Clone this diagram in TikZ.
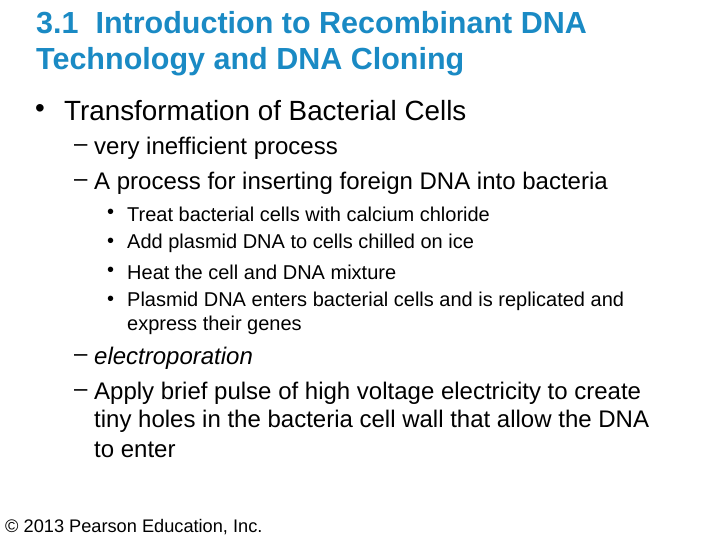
\documentclass[tikz,border=0pt]{standalone}
\usepackage{fontspec}
\setmainfont{Liberation Sans}
\definecolor{titleblue}{HTML}{1A8AC4}
\begin{document}
\begin{tikzpicture}[x=1pt,y=-1pt,
  every node/.style={anchor=west,inner sep=0pt},
  ttl/.style={font=\fontsize{30.5}{34}\selectfont\bfseries,text=titleblue},
  lone/.style={font=\fontsize{27.8}{32}\selectfont},
  ltwo/.style={font=\fontsize{24}{28}\selectfont},
  lthree/.style={font=\fontsize{20}{24}\selectfont},
  copy/.style={font=\fontsize{18.2}{21}\selectfont}]
\useasboundingbox (0,0) rectangle (720,540);
\node[ttl] (t1) at (36,23) {3.1\ \ Introduction to Recombinant DNA};
\node[ttl] (t2) at (36,62) {Technology and DNA Cloning};
\node[lone] (b1) at (35,111) {•};
\node[lone] (x1) at (64,111) {Transformation of Bacterial Cells};
\node[ltwo] (d1) at (74,148) {–};
\node[ltwo] (y1) at (94,148) {very inefficient process};
\node[ltwo] (d2) at (74,183) {–};
\node[ltwo] (y2) at (94,183) {A process for inserting foreign DNA into bacteria};
\node[lthree] (c1) at (107,214) {•};
\node[lthree] (z1) at (127,214) {Treat bacterial cells with calcium chloride};
\node[lthree] (c2) at (107,243) {•};
\node[lthree] (z2) at (127,243) {Add plasmid DNA to cells chilled on ice};
\node[lthree] (c3) at (107,272) {•};
\node[lthree] (z3) at (127,272) {Heat the cell and DNA mixture};
\node[lthree] (c4) at (107,301) {•};
\node[lthree] (z4) at (127,301) {Plasmid DNA enters bacterial cells and is replicated and};
\node[lthree] (z5) at (127,325) {express their genes};
\node[ltwo] (d3) at (74,358) {–};
\node[ltwo] (y3) at (94,358) {\itshape electroporation};
\node[ltwo] (d4) at (74,393) {–};
\node[ltwo] (y4) at (94,393) {Apply brief pulse of high voltage electricity to create};
\node[ltwo] (y5) at (94,421) {tiny holes in the bacteria cell wall that allow the DNA};
\node[ltwo] (y6) at (94,450) {to enter};
\node[copy] (cp) at (5,527) {© 2013 Pearson Education, Inc.};
\end{tikzpicture}
\end{document}
